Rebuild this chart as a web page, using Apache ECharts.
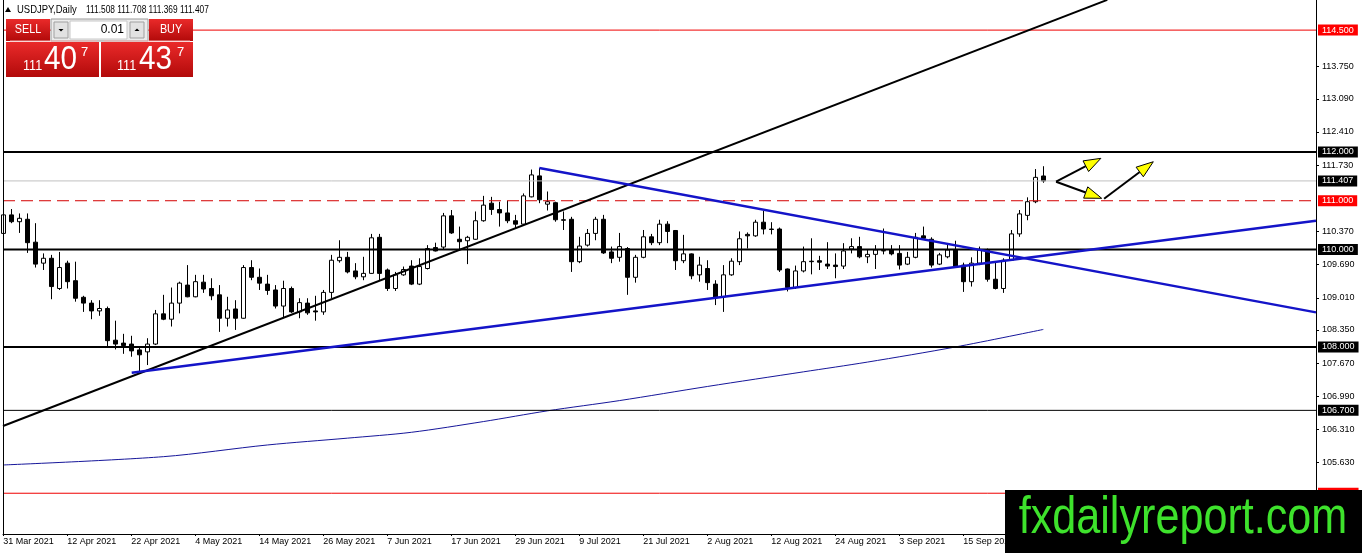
<!DOCTYPE html>
<html>
<head>
<meta charset="utf-8">
<title>USDJPY, Daily</title>
<script src="https://cdn.jsdelivr.net/npm/echarts@6/dist/echarts.min.js"></script>
<style>
  html, body { margin: 0; padding: 0; background: #fff; }
  #main { width: 1362px; height: 553px; }
</style>
</head>
<body>
<div id="main"></div>
<script>
// time axis labels, one every 8 daily bars
const dateLabels = ['31 Mar 2021', '12 Apr 2021', '22 Apr 2021', '4 May 2021', '14 May 2021', '26 May 2021',
  '7 Jun 2021', '17 Jun 2021', '29 Jun 2021', '9 Jul 2021', '21 Jul 2021', '2 Aug 2021', '12 Aug 2021',
  '24 Aug 2021', '3 Sep 2021', '15 Sep 2021', '27 Sep 2021']
const labelStep = 8

// daily bars: open, close, low, high
const ohlc = [
  [110.33, 110.71, 110.26, 110.91], [110.71, 110.57, 110.54, 110.83], [110.57, 110.64, 110.34, 110.74],
  [110.62, 110.14, 109.93, 110.74], [110.15, 109.70, 109.63, 110.54], [109.72, 109.82, 109.58, 109.92],
  [109.82, 109.24, 108.98, 109.89], [109.20, 109.63, 109.17, 109.95], [109.72, 109.34, 109.20, 109.77],
  [109.36, 109.00, 108.93, 109.75], [109.02, 108.90, 108.72, 109.05], [108.90, 108.74, 108.57, 108.96],
  [108.74, 108.79, 108.64, 108.96], [108.79, 108.13, 108.01, 108.83], [108.14, 108.06, 107.95, 108.54],
  [108.08, 108.03, 107.86, 108.27], [108.06, 107.92, 107.80, 108.23], [107.94, 107.84, 107.46, 108.01],
  [107.90, 108.06, 107.63, 108.18], [108.06, 108.68, 108.04, 108.76], [108.68, 108.57, 108.55, 109.07],
  [108.57, 108.90, 108.42, 109.22], [108.90, 109.31, 108.69, 109.34], [109.27, 109.03, 109.02, 109.68],
  [109.03, 109.34, 109.02, 109.48], [109.33, 109.19, 109.11, 109.48], [109.20, 109.05, 108.96, 109.41],
  [109.07, 108.59, 108.31, 109.27], [108.59, 108.76, 108.42, 109.03], [108.78, 108.59, 108.35, 108.96],
  [108.59, 109.63, 108.58, 109.68], [109.63, 109.43, 109.37, 109.78], [109.43, 109.31, 109.17, 109.61],
  [109.29, 109.16, 109.07, 109.48], [109.17, 108.84, 108.79, 109.27], [108.84, 109.20, 108.59, 109.36],
  [109.20, 108.72, 108.70, 109.24], [108.72, 108.91, 108.59, 109.00], [108.90, 108.70, 108.66, 109.00],
  [108.74, 108.72, 108.54, 109.05], [108.72, 109.12, 108.66, 109.17], [109.12, 109.78, 109.00, 109.89],
  [109.77, 109.84, 109.73, 110.19], [109.84, 109.54, 109.51, 109.95], [109.56, 109.44, 109.39, 109.72],
  [109.44, 109.51, 109.37, 109.85], [109.51, 110.24, 109.50, 110.32], [110.25, 109.51, 109.37, 110.32],
  [109.58, 109.20, 109.15, 109.61], [109.20, 109.48, 109.15, 109.54], [109.48, 109.59, 109.46, 109.65],
  [109.66, 109.29, 109.27, 109.78], [109.29, 109.65, 109.27, 109.82], [109.61, 110.02, 109.59, 110.09],
  [110.04, 109.97, 109.96, 110.14], [110.05, 110.69, 110.00, 110.75], [110.69, 110.34, 110.32, 110.81],
  [110.21, 110.16, 109.98, 110.47], [110.18, 110.25, 109.70, 110.28], [110.21, 110.59, 110.20, 110.78],
  [110.59, 110.91, 110.57, 111.10], [110.95, 110.82, 110.71, 111.08], [110.82, 110.75, 110.47, 110.98],
  [110.75, 110.59, 110.54, 111.00], [110.59, 110.52, 110.43, 110.71], [110.52, 111.10, 110.50, 111.15],
  [111.08, 111.53, 111.07, 111.64], [111.51, 111.02, 110.95, 111.67], [110.93, 110.98, 110.80, 111.19],
  [110.96, 110.61, 110.57, 110.98], [110.61, 110.60, 110.40, 110.78], [110.62, 109.75, 109.54, 110.67],
  [109.75, 110.07, 109.72, 110.26], [110.09, 110.33, 110.06, 110.42], [110.33, 110.62, 110.19, 110.67],
  [110.62, 109.93, 109.91, 110.71], [109.95, 109.82, 109.72, 110.06], [109.84, 110.06, 109.75, 110.34],
  [110.02, 109.43, 109.07, 110.05], [109.43, 109.84, 109.32, 109.89], [109.84, 110.26, 109.82, 110.40],
  [110.26, 110.14, 110.09, 110.32], [110.14, 110.52, 110.09, 110.61], [110.52, 110.37, 110.13, 110.58],
  [110.39, 109.77, 109.58, 110.40], [109.77, 109.91, 109.72, 110.30], [109.91, 109.46, 109.39, 109.92],
  [109.48, 109.68, 109.34, 109.85], [109.61, 109.32, 109.17, 109.78], [109.29, 109.01, 108.86, 109.37],
  [109.03, 109.48, 108.72, 109.68], [109.48, 109.76, 109.46, 109.82], [109.75, 110.22, 109.68, 110.37],
  [110.31, 110.28, 110.02, 110.35], [110.28, 110.56, 110.26, 110.61], [110.56, 110.42, 110.31, 110.79],
  [110.42, 110.41, 110.31, 110.56], [110.42, 109.58, 109.54, 110.45], [109.60, 109.22, 109.14, 109.61],
  [109.22, 109.56, 109.19, 109.67], [109.56, 109.75, 109.53, 110.06], [109.76, 109.75, 109.49, 110.23],
  [109.77, 109.74, 109.58, 109.87], [109.70, 109.66, 109.60, 110.15], [109.68, 109.65, 109.41, 109.92],
  [109.66, 109.97, 109.60, 110.13], [110.01, 110.06, 109.92, 110.23], [110.06, 109.85, 109.82, 110.26],
  [109.85, 109.90, 109.72, 109.99], [109.90, 109.99, 109.60, 110.09], [109.97, 109.98, 109.90, 110.43],
  [110.00, 109.91, 109.88, 110.09], [109.92, 109.68, 109.59, 110.09], [109.70, 109.84, 109.68, 109.95],
  [109.84, 110.25, 109.82, 110.34], [110.28, 110.23, 110.21, 110.47], [110.21, 109.68, 109.63, 110.25],
  [109.70, 109.89, 109.68, 109.93], [109.85, 109.99, 109.82, 110.11], [109.99, 109.65, 109.63, 110.18],
  [109.68, 109.34, 109.13, 109.73], [109.34, 109.72, 109.24, 109.84], [109.72, 109.99, 109.68, 110.06],
  [109.99, 109.39, 109.34, 110.02], [109.39, 109.20, 109.18, 109.75], [109.20, 109.78, 109.11, 109.82],
  [109.78, 110.32, 109.77, 110.40], [110.32, 110.73, 110.26, 110.81], [110.70, 110.98, 110.60, 111.07],
  [110.98, 111.48, 110.95, 111.65], [111.508, 111.407, 111.369, 111.708]
]

// slow moving average, read at some bars: [bar, price]
const maPoints = [[0, 105.58], [20, 105.75], [33, 105.99], [43, 106.13], [51, 106.25], [60, 106.47],
  [68, 106.69], [77, 106.90], [88, 107.19], [100, 107.49], [108, 107.69], [119, 108.00], [130, 108.36]]

// trend lines: [bar, price] end points
const blackTrend = [[-0.04, 106.38], [138.0, 115.12]]
const blueSupport = [[16.05, 107.47], [164.09, 110.59]]
const blueResist = [[67, 111.67], [164.09, 108.71]]

// arrows: [fromBar, fromPrice, toBar, toPrice]
const arrows = [[131.6, 111.39, 137.2, 111.87], [131.6, 111.39, 137.3, 111.05], [137.6, 111.04, 143.75, 111.80]]

// horizontal levels and price scale ticks
const levels = [114.5, 112.0, 111.407, 111.0, 110.0, 108.0, 106.7, 105.0]
const priceTicks = [113.75, 113.09, 112.41, 111.73, 110.37, 109.69, 109.01, 108.35, 107.67, 106.99, 106.31, 105.63]

const levelLook = [
  { color: '#f00000', width: 1, type: 'solid', tag: '#ff0000' },
  { color: '#000000', width: 2, type: 'solid', tag: '#000000' },
  { color: '#c0c0c0', width: 1, type: 'solid', tag: '#000000' },
  { color: '#d40000', width: 1, type: [12, 6], tag: '#ff0000' },
  { color: '#000000', width: 2, type: 'solid', tag: '#000000' },
  { color: '#000000', width: 2, type: 'solid', tag: '#000000' },
  { color: '#000000', width: 1, type: 'solid', tag: '#000000' },
  { color: '#f00000', width: 1, type: 'solid', tag: '#ff0000' }
]

const FONT = '"Liberation Sans", Arial, sans-serif'
const X_MIN = -0.04
const X_MAX = 164.09
const labelBars = dateLabels.map((d, i) => i * labelStep)

const chart = echarts.init(document.getElementById('main'))

const redFill = new echarts.graphic.LinearGradient(0, 0, 0, 1, [
  { offset: 0, color: '#ea2a2a' }, { offset: 1, color: '#b20a0a' }
])

function txt(x, y, text, size, color, extra) {
  const el = {
    type: 'text', x: x, y: y, z: 110,
    style: { x: 0, y: 0, text: text, font: size + 'px ' + FONT, fill: color, verticalAlign: 'middle', align: 'left' }
  }
  if (extra) {
    if (extra.scaleX) el.scaleX = extra.scaleX
    if (extra.align) el.style.align = extra.align
  }
  return el
}

const panel = [
  // header line
  { type: 'polygon', z: 100, shape: { points: [[5, 12], [11, 12], [8, 7]] }, style: { fill: '#000' } },
  txt(17, 10, 'USDJPY,Daily', 11, '#000', { scaleX: 0.86 }),
  txt(86, 10, '111.508 111.708 111.369 111.407', 11, '#000', { scaleX: 0.76 }),
  // sell / buy buttons
  { type: 'rect', z: 100, shape: { x: 6, y: 19, width: 44, height: 22 }, style: { fill: redFill } },
  { type: 'rect', z: 100, shape: { x: 149, y: 19, width: 44, height: 22 }, style: { fill: redFill } },
  txt(28, 30, 'SELL', 12, '#fff', { align: 'center', scaleX: 0.9 }),
  txt(171, 30, 'BUY', 12, '#fff', { align: 'center', scaleX: 0.9 }),
  // lot size box
  { type: 'rect', z: 100, shape: { x: 51, y: 19, width: 97, height: 22 }, style: { fill: '#ececec', stroke: '#9a9a9a', lineWidth: 1 } },
  { type: 'rect', z: 101, shape: { x: 54, y: 22, width: 14, height: 16 }, style: { fill: '#e2e2e2', stroke: '#a0a0a0', lineWidth: 1 } },
  { type: 'rect', z: 101, shape: { x: 70, y: 21, width: 57, height: 18 }, style: { fill: '#fff', stroke: '#c8c8c8', lineWidth: 1 } },
  { type: 'rect', z: 101, shape: { x: 130, y: 22, width: 14, height: 16 }, style: { fill: '#e2e2e2', stroke: '#a0a0a0', lineWidth: 1 } },
  { type: 'polygon', z: 102, shape: { points: [[58.5, 29], [63.5, 29], [61, 31.5]] }, style: { fill: '#000' } },
  { type: 'polygon', z: 102, shape: { points: [[134.5, 31], [139.5, 31], [137, 28.5]] }, style: { fill: '#000' } },
  txt(124, 30, '0.01', 12, '#000', { align: 'right' }),
  // price boxes
  { type: 'rect', z: 100, shape: { x: 6, y: 42, width: 93, height: 35 }, style: { fill: redFill } },
  { type: 'rect', z: 100, shape: { x: 101, y: 42, width: 92, height: 35 }, style: { fill: redFill } },
  { type: 'line', z: 101, shape: { x1: 10, y1: 41, x2: 97, y2: 41 }, style: { stroke: '#f4b0b0', lineWidth: 1 } },
  { type: 'line', z: 101, shape: { x1: 104, y1: 41, x2: 190, y2: 41 }, style: { stroke: '#f4b0b0', lineWidth: 1 } },
  txt(23, 66, '111', 14, '#fff', { scaleX: 0.9 }),
  txt(44, 60, '40', 33, '#fff', { scaleX: 0.9 }),
  txt(81, 52, '7', 13, '#fff'),
  txt(117, 66, '111', 14, '#fff', { scaleX: 0.9 }),
  txt(139, 60, '43', 33, '#fff', { scaleX: 0.9 }),
  txt(177, 52, '7', 13, '#fff'),
  // left frame
  { type: 'line', z: 50, shape: { x1: 3.5, y1: 0, x2: 3.5, y2: 534 }, style: { stroke: '#000', lineWidth: 1 } },
  // watermark
  { type: 'rect', z: 200, shape: { x: 1005, y: 490, width: 357, height: 63 }, style: { fill: '#000' } },
  {
    type: 'text', z: 201, x: 1183, y: 519, scaleX: 0.83,
    style: { x: 0, y: 0, text: 'fxdailyreport.com', font: '52px ' + FONT, fill: '#3ee22c', align: 'center', verticalAlign: 'middle' }
  }
]

// one flat line series per level, tag drawn by its end label
const levelSeries = levels.map((p, i) => ({
  type: 'line',
  z: 3,
  data: [[X_MIN, p], [X_MAX, p]],
  symbol: 'none',
  silent: true,
  lineStyle: { color: levelLook[i].color, width: levelLook[i].width, type: levelLook[i].type },
  endLabel: {
    show: true, distance: 2,
    formatter: () => p.toFixed(3),
    color: '#fff', backgroundColor: levelLook[i].tag,
    padding: [1, 4, 0, 4], lineHeight: 10, fontSize: 9, fontFamily: FONT
  }
}))

const option = {
  animation: false,
  backgroundColor: '#fff',
  grid: { left: 3, right: 46, top: 0, bottom: 19 },
  xAxis: {
    type: 'value',
    min: X_MIN,
    max: X_MAX,
    axisLine: { show: true, onZero: false, lineStyle: { color: '#000', width: 1 } },
    axisTick: { show: true, customValues: labelBars, length: 2, lineStyle: { color: '#000' } },
    axisLabel: {
      customValues: labelBars,
      formatter: v => dateLabels[Math.round(v / labelStep)],
      align: 'left', margin: 3, fontSize: 9, fontFamily: FONT, color: '#000'
    },
    splitLine: { show: false }
  },
  yAxis: {
    type: 'value',
    position: 'right',
    min: 104.1641,
    max: 115.1179,
    axisLine: { show: true, onZero: false, lineStyle: { color: '#000', width: 1 } },
    axisTick: { show: true, inside: false, customValues: priceTicks, length: 3, lineStyle: { color: '#000' } },
    axisLabel: {
      customValues: priceTicks,
      formatter: v => v.toFixed(3),
      margin: 6, fontSize: 9, fontFamily: FONT, color: '#000'
    },
    splitLine: { show: false }
  },
  series: [
    {
      type: 'candlestick',
      z: 2,
      barWidth: 5,
      data: ohlc.map((c, i) => [i, c[0], c[1], c[2], c[3]]),
      itemStyle: { color: '#fff', color0: '#000', borderColor: '#000', borderColor0: '#000', borderWidth: 1 }
    },
    {
      type: 'line',
      z: 3,
      data: maPoints,
      smooth: 0.3,
      symbol: 'none',
      lineStyle: { color: '#16169a', width: 1 }
    },
    ...levelSeries,
    { type: 'line', z: 4, data: blackTrend, symbol: 'none', lineStyle: { color: '#000', width: 2 } },
    { type: 'line', z: 4, data: blueSupport, symbol: 'none', lineStyle: { color: '#1414c8', width: 2.5 } },
    { type: 'line', z: 4, data: blueResist, symbol: 'none', lineStyle: { color: '#1414c8', width: 2.5 } },
    {
      type: 'custom',
      z: 5,
      data: arrows,
      encode: { x: [0, 2], y: [1, 3] },
      renderItem: function (params, api) {
        const a = api.coord([api.value(0), api.value(1)])
        const b = api.coord([api.value(2), api.value(3)])
        const ang = Math.atan2(b[1] - a[1], b[0] - a[0])
        const len = 17, half = 6
        const bx = b[0] - len * Math.cos(ang), by = b[1] - len * Math.sin(ang)
        const nx = -Math.sin(ang) * half, ny = Math.cos(ang) * half
        return {
          type: 'group',
          children: [
            { type: 'line', shape: { x1: a[0], y1: a[1], x2: bx, y2: by }, style: { stroke: '#000', lineWidth: 2 } },
            {
              type: 'polygon',
              shape: { points: [[b[0], b[1]], [bx + nx, by + ny], [bx - nx, by - ny]] },
              style: { fill: '#ffff00', stroke: '#000', lineWidth: 1 }
            }
          ]
        }
      }
    }
  ],
  graphic: { elements: panel }
}

chart.setOption(option)
</script>
</body>
</html>
